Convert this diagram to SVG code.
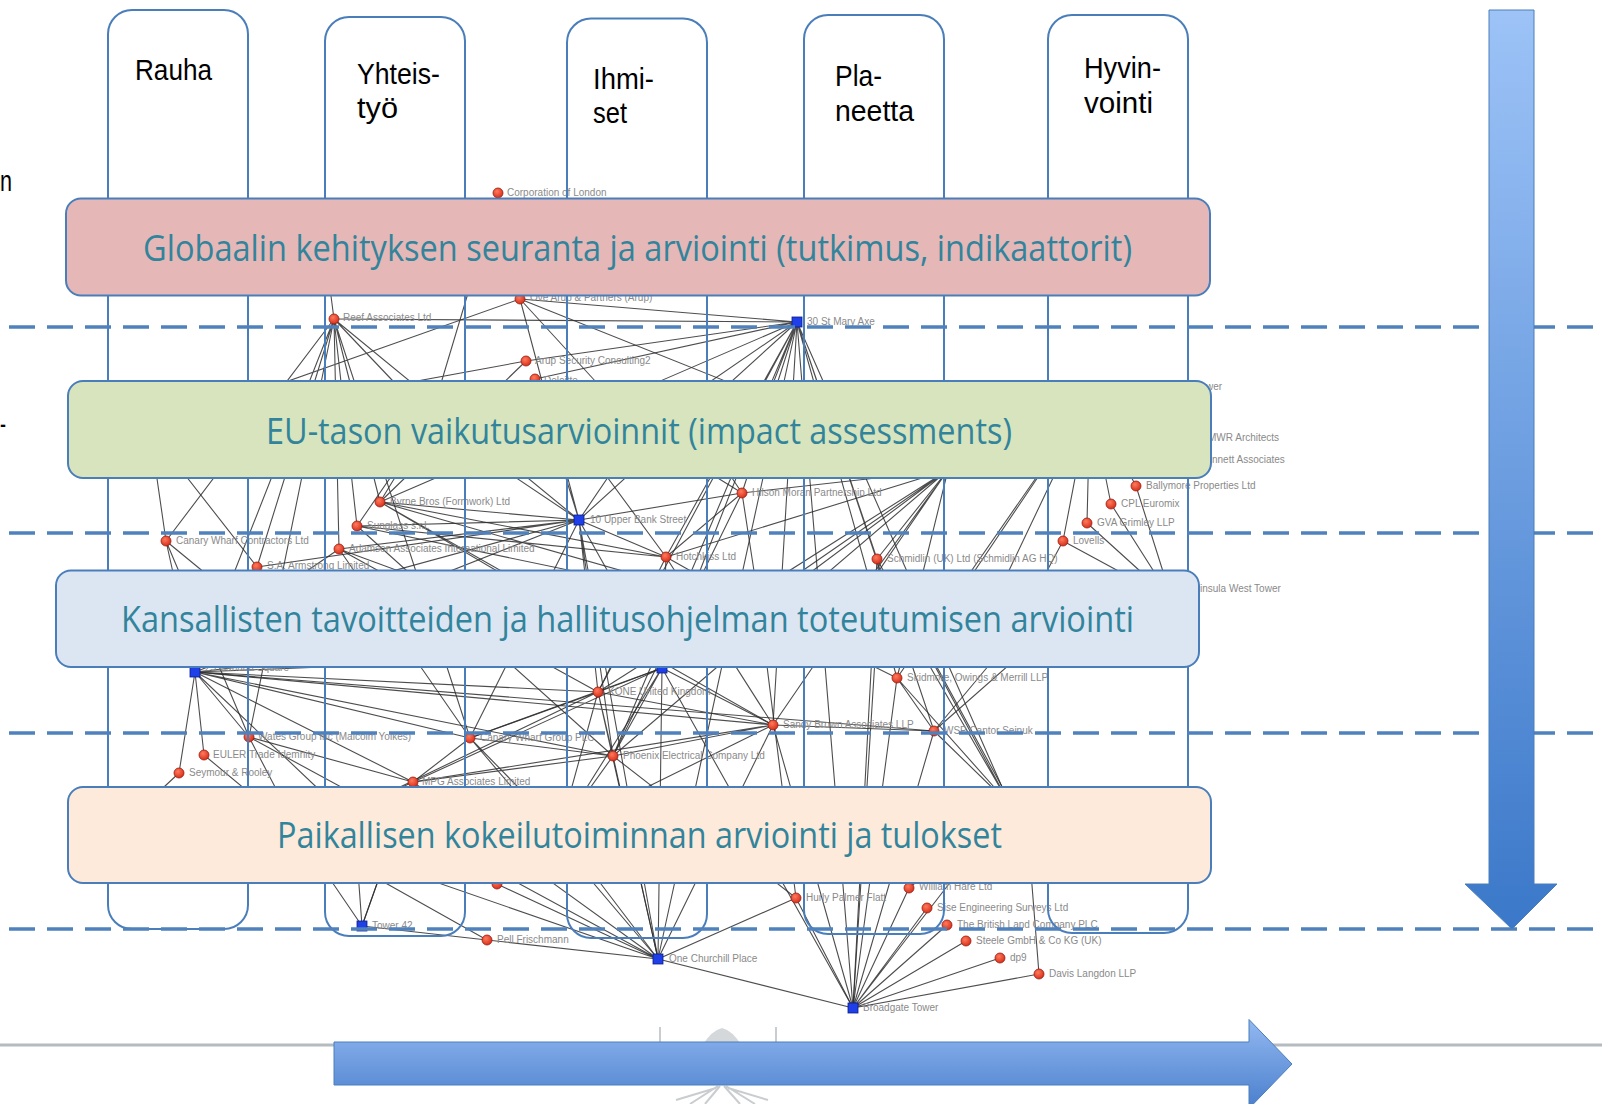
<svg xmlns="http://www.w3.org/2000/svg" xmlns:xlink="http://www.w3.org/1999/xlink" width="1602" height="1104" viewBox="0 0 1602 1104">
<defs>
<style>
.col{fill:none;stroke:#4a7ebb;stroke-width:2}
.box{stroke:#4a7ebb;stroke-width:2}
.lbl{font-family:"Liberation Sans",Arial,sans-serif;font-size:30px;fill:#000}
.bt{font-family:"Open Sans","Noto Sans",sans-serif;font-size:36px;fill:#31849b}
.dash{stroke:#4f81bd;stroke-width:3.5;stroke-dasharray:26 12;fill:none}
.e{stroke:#2e2e2e;stroke-width:1.1;fill:none;stroke-opacity:0.85}
.nl{font-family:"Liberation Sans",Arial,sans-serif;font-size:10px;fill:#8a8a8a}
</style>
<radialGradient id="rg" cx="0.4" cy="0.35" r="0.7">
<stop offset="0" stop-color="#ff7a5c"/><stop offset="1" stop-color="#d42a16"/>
</radialGradient>
<linearGradient id="vg" x1="0" y1="0" x2="0" y2="1">
<stop offset="0" stop-color="#9dc3f7"/><stop offset="1" stop-color="#3b78c9"/>
</linearGradient>
<linearGradient id="hg" x1="0" y1="0" x2="0" y2="1">
<stop offset="0" stop-color="#92b8f0"/><stop offset="1" stop-color="#4a7fcd"/>
</linearGradient>
<circle id="rn" r="5" fill="url(#rg)" stroke="#9b1a0e" stroke-width="0.8"/>
<rect id="bn" x="-5" y="-5" width="10" height="10" fill="#1f3fe8" stroke="#0b1d8a" stroke-width="0.8"/>
</defs>
<rect width="1602" height="1104" fill="#fff"/>

<g id="edge-texts">
<text class="lbl" x="0" y="191" textLength="12" lengthAdjust="spacingAndGlyphs">n</text>
<text class="lbl" x="0" y="434" textLength="6" lengthAdjust="spacingAndGlyphs">-</text>
</g>

<g id="network-edges">
<path class="e" d="M797 322L334 319M797 322L520 299M797 322L526 361M797 322L535 379M797 322L742 493M797 322L666 557M797 322L877 559M797 322L773 725M797 322L579 520M797 322L613 756M797 322L598 692M797 322L662 668M797 322L897 678M797 322L934 731M797 322L1010 805M797 322L853 1008M797 322L658 959M797 322L380 502M797 322L640 430"/>
<path class="e" d="M334 319L166 541M334 319L257 567M334 319L339 549M334 319L357 526M334 319L380 502M334 319L195 672M334 319L249 737M334 319L470 738M334 319L579 520M334 319L430 420M334 319L325 250M520 299L150 430M520 299L948 470M520 299L640 430M520 299L579 520M520 299L498 193M526 361L150 430M526 361L380 502M535 379L666 557M535 379L579 520M498 193L430 420"/>
<path class="e" d="M579 520L339 549M579 520L357 526M579 520L380 502M579 520L666 557M579 520L742 493M579 520L195 672M579 520L598 692M579 520L662 668M579 520L613 756M579 520L658 959M579 520L640 430M579 520L430 420M579 520L257 567M579 520L470 738M579 520L250 610"/>
<path class="e" d="M380 502L430 420M380 502L666 557M380 502L773 725M380 502L760 610M380 502L662 668M357 526L666 557M357 526L760 610M357 526L430 420M357 526L613 756M166 541L150 430M166 541L195 672M166 541L250 610M166 541L249 737M339 549L662 668M339 549L598 692M339 549L250 610M339 549L470 738M257 567L150 430M257 567L250 610M257 567L195 672"/>
<path class="e" d="M742 493L640 430M742 493L760 610M742 493L666 557M742 493L948 470M742 493L613 756M742 493L700 430M666 557L948 470M666 557L598 692M666 557L760 610M666 557L773 725M666 557L662 668M877 559L948 470M877 559L1010 805M877 559L880 580M880 580L1010 805M880 580L853 1008M895 590L1012 805"/>
<path class="e" d="M1136 486L1090 400M1136 486L1172 600M1111 504L1090 400M1111 504L1172 600M1087 523L1090 400M1087 523L1172 600M1063 541L1090 400M1063 541L1172 600M1063 541L1010 640M1090 400L955 600M1090 400L995 600M1090 400L948 470M1090 400L897 678"/>
<path class="e" d="M948 470L773 725M948 470L897 678M948 470L613 756M948 470L598 692M948 470L760 610M948 470L840 620M948 470L662 668"/>
<path class="e" d="M598 692L195 672M598 692L662 668M598 692L658 959M598 692L613 756M598 692L773 725M598 692L470 738M598 692L560 830M598 692L300 835M897 678L760 610M897 678L1010 805M897 678L853 1008M897 678L934 731M773 725L195 672M773 725L662 668M773 725L613 756M773 725L658 959M773 725L853 1008M773 725L560 830M773 725L413 782M773 725L934 731M934 731L1010 805M934 731L853 1008M934 731L1010 640M934 731L1060 620"/>
<path class="e" d="M613 756L195 672M613 756L658 959M613 756L560 830M613 756L413 782M613 756L470 738M470 738L195 672M470 738L658 959M470 738L413 782M470 738L560 830M249 737L195 672M249 737L658 959M249 737L300 835M249 737L413 782M204 755L195 672M204 755L300 835M179 773L195 672M179 773L150 800M413 782L195 672M413 782L362 926M413 782L658 959M413 782L300 835"/>
<path class="e" d="M195 672L250 610M195 672L330 800M195 672L760 610M195 672L1010 640M195 672L934 731M662 668L658 959M662 668L413 782M662 668L613 756M662 668L853 1008M662 668L560 830M662 668L470 738"/>
<path class="e" d="M362 926L413 782M362 926L300 835M362 926L487 940M362 926L355 830M487 940L658 959M487 940L300 835M497 884L658 959M497 884L560 830M658 959L560 830M658 959L796 898M658 959L853 1008M658 959L300 835M853 1008L796 898M853 1008L909 888M853 1008L927 908M853 1008L947 925M853 1008L966 941M853 1008L1000 958M853 1008L1039 974M853 1008L1010 805M853 1008L877 559M796 898L760 610M796 898L613 756M1039 974L1030 860M909 888L1010 805"/>
</g>

<g id="network-nodes">
<g id="n-corp"><use xlink:href="#rn" x="498" y="193"/><text class="nl" x="507" y="196">Corporation of London</text></g>
<g id="n-ovearup"><use xlink:href="#rn" x="520" y="299"/><text class="nl" x="530" y="301">Ove Arup &amp; Partners (Arup)</text></g>
<g id="n-reef"><use xlink:href="#rn" x="334" y="319"/><text class="nl" x="343" y="321">Reef Associates Ltd</text></g>
<g id="n-arupsec"><use xlink:href="#rn" x="526" y="361"/><text class="nl" x="535" y="364">Arup Security Consulting2</text></g>
<g id="n-deloitte"><use xlink:href="#rn" x="535" y="379"/><text class="nl" x="544" y="384">Deloitte</text></g>
<g id="n-stmary"><use xlink:href="#bn" x="797" y="322"/><text class="nl" x="807" y="325">30 St Mary Axe</text></g>
<g id="n-byrne"><use xlink:href="#rn" x="380" y="502"/><text class="nl" x="390" y="505">Byrne Bros (Formwork) Ltd</text></g>
<g id="n-sunglass"><use xlink:href="#rn" x="357" y="526"/><text class="nl" x="367" y="529">Sunglass s.r.l.</text></g>
<g id="n-cwc"><use xlink:href="#rn" x="166" y="541"/><text class="nl" x="176" y="544">Canary Wharf Contractors Ltd</text></g>
<g id="n-adamson"><use xlink:href="#rn" x="339" y="549"/><text class="nl" x="349" y="552">Adamson Associates International Limited</text></g>
<g id="n-armstrong"><use xlink:href="#rn" x="257" y="567"/><text class="nl" x="267" y="569">S.A. Armstrong Limited</text></g>
<g id="n-upperbank"><use xlink:href="#bn" x="579" y="520"/><text class="nl" x="590" y="523">10 Upper Bank Street</text></g>
<g id="n-hilson"><use xlink:href="#rn" x="742" y="493"/><text class="nl" x="752" y="496">Hilson Moran Partnership Ltd</text></g>
<g id="n-hotchkiss"><use xlink:href="#rn" x="666" y="557"/><text class="nl" x="676" y="560">Hotchkiss Ltd</text></g>
<g id="n-schmidlin"><use xlink:href="#rn" x="877" y="559"/><text class="nl" x="887" y="562">Schmidlin (UK) Ltd (Schmidlin AG HQ)</text></g>
<g id="n-ballymore"><use xlink:href="#rn" x="1136" y="486"/><text class="nl" x="1146" y="489">Ballymore Properties Ltd</text></g>
<g id="n-cpl"><use xlink:href="#rn" x="1111" y="504"/><text class="nl" x="1121" y="507">CPL Euromix</text></g>
<g id="n-gva"><use xlink:href="#rn" x="1087" y="523"/><text class="nl" x="1097" y="526">GVA Grimley LLP</text></g>
<g id="n-lovells"><use xlink:href="#rn" x="1063" y="541"/><text class="nl" x="1073" y="544">Lovells</text></g>
<g id="n-right-labels">
<text class="nl" x="1206" y="390">wer</text>
<text class="nl" x="1208" y="441">MWR Architects</text>
<text class="nl" x="1212" y="463">nnett Associates</text>
<text class="nl" x="1200" y="592">insula West Tower</text>
</g>
<g id="n-canada"><use xlink:href="#bn" x="195" y="672"/><text class="nl" x="205" y="671">25 Canada Square</text></g>
<g id="n-hub2"><use xlink:href="#bn" x="662" y="668"/></g>
<g id="n-kone"><use xlink:href="#rn" x="598" y="692"/><text class="nl" x="608" y="695">KONE United Kingdom</text></g>
<g id="n-skidmore"><use xlink:href="#rn" x="897" y="678"/><text class="nl" x="907" y="681">Skidmore, Owings &amp; Merrill LLP</text></g>
<g id="n-sandy"><use xlink:href="#rn" x="773" y="725"/><text class="nl" x="783" y="728">Sandy Brown Associates LLP</text></g>
<g id="n-wsp"><use xlink:href="#rn" x="934" y="731"/><text class="nl" x="944" y="734">WSP Cantor Seinuk</text></g>
<g id="n-phoenix"><use xlink:href="#rn" x="613" y="756"/><text class="nl" x="623" y="759">Phoenix Electrical Company Ltd</text></g>
<g id="n-cwg"><use xlink:href="#rn" x="470" y="738"/><text class="nl" x="480" y="741">Canary Wharf Group PLC</text></g>
<g id="n-wates"><use xlink:href="#rn" x="249" y="737"/><text class="nl" x="258" y="740">Wates Group Inc (Malcolm Yolkes)</text></g>
<g id="n-euler"><use xlink:href="#rn" x="204" y="755"/><text class="nl" x="213" y="758">EULER Trade Idemnity</text></g>
<g id="n-seymour"><use xlink:href="#rn" x="179" y="773"/><text class="nl" x="189" y="776">Seymour &amp; Rooley</text></g>
<g id="n-mpg"><use xlink:href="#rn" x="413" y="782"/><text class="nl" x="422" y="785">MPG Associates Limited</text></g>
<g id="n-x1"><use xlink:href="#rn" x="497" y="884"/></g>
<g id="n-tower42"><use xlink:href="#bn" x="362" y="926"/><text class="nl" x="372" y="929">Tower 42</text></g>
<g id="n-pell"><use xlink:href="#rn" x="487" y="940"/><text class="nl" x="497" y="943">Pell Frischmann</text></g>
<g id="n-churchill"><use xlink:href="#bn" x="658" y="959"/><text class="nl" x="669" y="962">One Churchill Place</text></g>
<g id="n-hurly"><use xlink:href="#rn" x="796" y="898"/><text class="nl" x="806" y="901">Hurly Palmer Flatt</text></g>
<g id="n-hare"><use xlink:href="#rn" x="909" y="888"/><text class="nl" x="919" y="890">William Hare Ltd</text></g>
<g id="n-sise"><use xlink:href="#rn" x="927" y="908"/><text class="nl" x="937" y="911">Sise Engineering Surveys Ltd</text></g>
<g id="n-britishland"><use xlink:href="#rn" x="947" y="925"/><text class="nl" x="957" y="928">The British Land Company PLC</text></g>
<g id="n-steele"><use xlink:href="#rn" x="966" y="941"/><text class="nl" x="976" y="944">Steele GmbH &amp; Co KG (UK)</text></g>
<g id="n-dp9"><use xlink:href="#rn" x="1000" y="958"/><text class="nl" x="1010" y="961">dp9</text></g>
<g id="n-davis"><use xlink:href="#rn" x="1039" y="974"/><text class="nl" x="1049" y="977">Davis Langdon LLP</text></g>
<g id="n-broadgate"><use xlink:href="#bn" x="853" y="1008"/><text class="nl" x="863" y="1011">Broadgate Tower</text></g>
</g>

<g id="col-rauha"><rect class="col" x="108" y="10" width="140" height="919" rx="24"/><text class="lbl" x="135" y="80" textLength="77" lengthAdjust="spacingAndGlyphs">Rauha</text></g>
<g id="col-yhteistyo"><rect class="col" x="325" y="17" width="140" height="919" rx="24"/><text class="lbl" x="357" y="84" textLength="83" lengthAdjust="spacingAndGlyphs">Yhteis-</text><text class="lbl" x="357" y="118" textLength="41" lengthAdjust="spacingAndGlyphs">työ</text></g>
<g id="col-ihmiset"><rect class="col" x="567" y="18.5" width="140" height="919.5" rx="24"/><text class="lbl" x="593" y="89" textLength="61" lengthAdjust="spacingAndGlyphs">Ihmi-</text><text class="lbl" x="593" y="123" textLength="34" lengthAdjust="spacingAndGlyphs">set</text></g>
<g id="col-planeetta"><rect class="col" x="804" y="15" width="140" height="919" rx="24"/><text class="lbl" x="835" y="86" textLength="47" lengthAdjust="spacingAndGlyphs">Pla-</text><text class="lbl" x="835" y="121" textLength="79" lengthAdjust="spacingAndGlyphs">neetta</text></g>
<g id="col-hyvinvointi"><rect class="col" x="1048" y="15" width="140" height="918" rx="24"/><text class="lbl" x="1084" y="78" textLength="77" lengthAdjust="spacingAndGlyphs">Hyvin-</text><text class="lbl" x="1084" y="113" textLength="69" lengthAdjust="spacingAndGlyphs">vointi</text></g>

<g id="dashed-lines">
<line class="dash" x1="9" y1="327" x2="1602" y2="327"/>
<line class="dash" x1="9" y1="533" x2="1602" y2="533"/>
<line class="dash" x1="9" y1="733" x2="1602" y2="733"/>
<line class="dash" x1="9" y1="929" x2="1602" y2="929"/>
</g>

<g id="box-global"><rect class="box" x="66" y="198.5" width="1144" height="97" rx="15" fill="#e5b8b7"/><text class="bt" x="143" y="261" textLength="989" lengthAdjust="spacingAndGlyphs">Globaalin kehityksen seuranta ja arviointi (tutkimus, indikaattorit)</text></g>
<g id="box-eu"><rect class="box" x="68" y="381" width="1143" height="97" rx="15" fill="#d7e4bd"/><text class="bt" x="266" y="444" textLength="746" lengthAdjust="spacingAndGlyphs">EU-tason vaikutusarvioinnit (impact assessments)</text></g>
<g id="box-national"><rect class="box" x="56" y="570.5" width="1143" height="96.5" rx="15" fill="#dce6f2"/><text class="bt" x="121" y="632" textLength="1013" lengthAdjust="spacingAndGlyphs">Kansallisten tavoitteiden ja hallitusohjelman toteutumisen arviointi</text></g>
<g id="box-local"><rect class="box" x="68" y="787" width="1143" height="96" rx="15" fill="#fdeada"/><text class="bt" x="277" y="848" textLength="725" lengthAdjust="spacingAndGlyphs">Paikallisen kokeilutoiminnan arviointi ja tulokset</text></g>

<g id="footer">
<line x1="0" y1="1045" x2="1602" y2="1045" stroke="#b4bcc2" stroke-width="3"/>
<g id="logo" fill="none" stroke="#b3b8bc" stroke-width="2" opacity="0.7">
<line x1="660" y1="1027" x2="660" y2="1046"/>
<line x1="776" y1="1027" x2="776" y2="1046"/>
<path d="M702 1046 Q712 1030 722 1028 Q732 1030 742 1046" fill="#c4c8cb" stroke="none"/>
<path d="M690 1104 L718 1086 M705 1104 L720 1086 M740 1104 L724 1086 M755 1104 L726 1086 M676 1100 L716 1088 M768 1100 L728 1088"/>
</g>
</g>

<g id="arrows">
<path id="arrow-down" d="M1489 10 H1534 V884 H1557 L1512 929 L1465 884 H1489 Z" fill="url(#vg)" stroke="#4a7ebb" stroke-width="1"/>
<path id="arrow-right" d="M334 1042 H1249 V1019.5 L1292 1064 L1249 1108.5 V1085 H334 Z" fill="url(#hg)" stroke="#4a7ebb" stroke-width="1"/>
</g>
</svg>
